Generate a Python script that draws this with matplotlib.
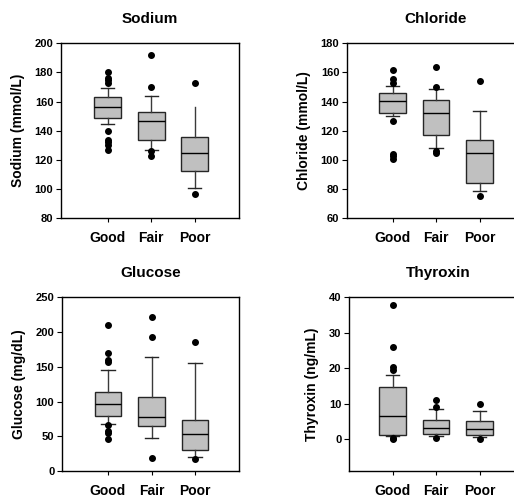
import matplotlib
matplotlib.use("Agg")
import matplotlib.pyplot as plt

plt.rcParams['font.family'] = ['Liberation Sans', 'DejaVu Sans']
plt.rcParams['font.weight'] = 'bold'

groups = ["Good", "Fair", "Poor"]

sodium_med = [156, 146.5, 125]
sodium_q1 = [149, 134, 112.5]
sodium_q3 = [163, 153, 136]
sodium_lo = [145, 127, 100.5]
sodium_hi = [169.5, 164, 156]
sodium_fliers = [[180, 176, 174.5, 172.5, 140, 134, 132, 130, 127],
                 [192, 170, 126, 123],
                 [173, 97]]

chloride_med = [140.5, 132, 105]
chloride_q1 = [132.5, 117, 84.5]
chloride_q3 = [146, 141, 113.5]
chloride_lo = [130, 108, 79]
chloride_hi = [151, 149, 133.5]
chloride_fliers = [[162, 155.5, 153, 127, 104, 102.5, 101],
                   [164, 150, 106, 105],
                   [154, 75.5]]

glucose_med = [97, 77.5, 53]
glucose_q1 = [79.5, 65, 30.5]
glucose_q3 = [113, 106, 74]
glucose_lo = [68, 48, 20]
glucose_hi = [145, 164, 155.5]
glucose_fliers = [[210, 169.5, 159, 157, 66, 58, 55, 46],
                  [221.5, 192, 19.5],
                  [185, 17]]

thyroxin_med = [6.5, 3.1, 2.8]
thyroxin_q1 = [1.1, 1.6, 1.3]
thyroxin_q3 = [14.7, 5.5, 5.0]
thyroxin_lo = [1.0, 1.0, 0.5]
thyroxin_hi = [18.2, 8.5, 8.0]
thyroxin_fliers = [[37.8, 26, 20.2, 19.5, 0.3, 0.1],
                   [11, 9, 0.2],
                   [10, 0.1]]

W, H = 514, 498
fig = plt.figure(figsize=(W / 100, H / 100), dpi=100)


def make_stats(med, q1, q3, lo, hi, fl):
    return [dict(med=m, q1=a, q3=b, whislo=l, whishi=h, fliers=f, label=g)
            for m, a, b, l, h, f, g in zip(med, q1, q3, lo, hi, fl, groups)]


panels = [
    ("Sodium", "Sodium (mmol/L)", (80, 200), [80, 100, 120, 140, 160, 180, 200],
     make_stats(sodium_med, sodium_q1, sodium_q3, sodium_lo, sodium_hi, sodium_fliers),
     (61, 43.3, 238.5, 218.3), 107.8),
    ("Chloride", "Chloride (mmol/L)", (60, 180), [60, 80, 100, 120, 140, 160, 180],
     make_stats(chloride_med, chloride_q1, chloride_q3, chloride_lo, chloride_hi, chloride_fliers),
     (347, 43.3, 524.5, 218.3), 392.5),
    ("Glucose", "Glucose (mg/dL)", (0, 250), [0, 50, 100, 150, 200, 250],
     make_stats(glucose_med, glucose_q1, glucose_q3, glucose_lo, glucose_hi, glucose_fliers),
     (62, 297, 238.5, 471.2), 108.0),
    ("Thyroxin", "Thyroxin (ng/mL)", (-9, 40), [0, 10, 20, 30, 40],
     make_stats(thyroxin_med, thyroxin_q1, thyroxin_q3, thyroxin_lo, thyroxin_hi, thyroxin_fliers),
     (349, 297, 526.5, 471.2), 392.5),
]

spacing = 43.5
for title, ylabel, ylim, yticks, stats, (l, t, r, b), c1 in panels:
    ax = fig.add_axes([l / W, 1 - b / H, (r - l) / W, (b - t) / H])
    res = ax.bxp(stats, positions=[1, 2, 3], widths=0.62, patch_artist=True,
                 capwidths=0.3, showfliers=True,
                 boxprops=dict(facecolor='#c0c0c0', edgecolor='#262626', linewidth=1.0),
                 medianprops=dict(color='black', linewidth=1.0),
                 whiskerprops=dict(color='#3a3a3a', linewidth=1.0),
                 capprops=dict(color='#262626', linewidth=1.0),
                 flierprops=dict(marker='o', markerfacecolor='black', markeredgecolor='black',
                                 markersize=4, linestyle='none'))
    if title == "Sodium":
        res['caps'][5].set_visible(False)
    ax.set_xlim(1 - (c1 - l) / spacing, 1 + (r - c1) / spacing)
    ax.set_ylim(*ylim)
    ax.set_yticks(yticks)
    ax.set_xticks([1, 2, 3])
    ax.set_xticklabels(groups)
    ax.tick_params(axis='y', labelsize=8, length=3.5, width=0.8, pad=2, direction='out')
    ax.tick_params(axis='x', labelsize=10, length=3, width=0.8, pad=6, direction='out')
    for lab in ax.get_xticklabels() + ax.get_yticklabels():
        lab.set_fontweight('bold')
    for sp in ax.spines.values():
        sp.set_linewidth(1.0)
    ax.set_title(title, fontsize=11, fontweight='bold', pad=14.5)
    ax.set_ylabel(ylabel, fontsize=10, fontweight='bold', labelpad=7)

fig.savefig("out.png", dpi=100)
